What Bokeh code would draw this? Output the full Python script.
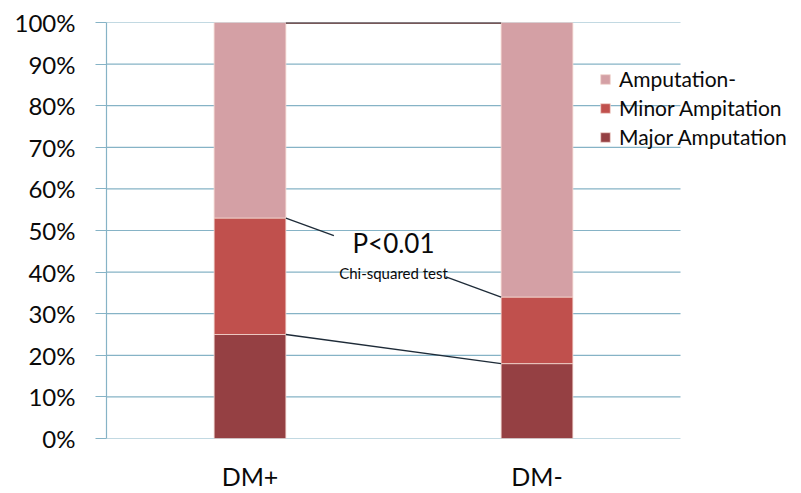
from bokeh.plotting import figure
from bokeh.models import Range1d, FixedTicker, Legend, LegendItem
from bokeh.core.properties import value
from bokeh.embed import file_html
from bokeh.resources import INLINE

categories = ["DM+", "DM-"]
major_amp = [25, 18]
minor_amp = [28, 16]
amp_neg = [47, 66]
series_names = ["Amputation-", "Minor Ampitation", "Major Amputation"]
series_colors = ["#D4A0A5", "#C0504D", "#954043"]
y_ticks = [0, 10, 20, 30, 40, 50, 60, 70, 80, 90, 100]
y_tick_labels = ["0%", "10%", "20%", "30%", "40%", "50%", "60%", "70%", "80%", "90%", "100%"]
p_text = "P<0.01"
test_text = "Chi-squared test"

FONT = "Lato"
GRID = "#86B3C6"
TXT = "#0A0A0A"

W, H = 801, 493
LEFT, TOP, BOTTOM = 106, 22, 55
n_cat = len(categories)
cat_px = 287.0
xs = [i + 0.5 for i in range(n_cat)]
bar_w = 0.25
x_end = (W - LEFT) / cat_px

p = figure(width=W, height=H, output_backend="svg", toolbar_location=None,
           x_range=Range1d(0, x_end), y_range=Range1d(0, 100),
           min_border_left=LEFT, min_border_right=0, min_border_top=TOP, min_border_bottom=BOTTOM)
p.outline_line_color = None
p.background_fill_color = "white"

# horizontal gridlines limited to the category area
p.segment(x0=[0] * len(y_ticks), x1=[n_cat] * len(y_ticks), y0=y_ticks, y1=y_ticks,
          line_color=GRID, line_width=1.2)

tops_major = major_amp
tops_minor = [a + b for a, b in zip(major_amp, minor_amp)]
tops_all = [a + b for a, b in zip(tops_minor, amp_neg)]

r_major = p.vbar(x=xs, width=bar_w, bottom=0, top=tops_major, fill_color=series_colors[2],
                 line_color="#F3D6CF", line_width=0.8)
r_minor = p.vbar(x=xs, width=bar_w, bottom=tops_major, top=tops_minor, fill_color=series_colors[1],
                 line_color="#F3D6CF", line_width=0.8)
r_neg = p.vbar(x=xs, width=bar_w, bottom=tops_minor, top=tops_all, fill_color=series_colors[0],
               line_color="#F3D6CF", line_width=0.8)

# connector lines between bars
x0 = xs[0] + bar_w / 2
x1 = xs[1] - bar_w / 2
p.line([x0, x1], [tops_all[0], tops_all[1]], line_color="#4A2020", line_width=2.5)
p.line([x0, x1], [tops_major[0], tops_major[1]], line_color="#1E2B38", line_width=1.3)
t1, t2 = 0.223, 0.744
ya, yb = tops_minor
p.line([x0, x0 + (x1 - x0) * t1], [ya, ya + (yb - ya) * t1], line_color="#1E2B38", line_width=1.3)
p.line([x0 + (x1 - x0) * t2, x1], [ya + (yb - ya) * t2, yb], line_color="#1E2B38", line_width=1.3)

xm = (xs[0] + xs[1]) / 2
p.text(x=[xm], y=[47.1], text=[p_text], text_font=value(FONT), text_font_size="26px",
       text_align="center", text_baseline="middle", text_color=TXT)
p.text(x=[xm], y=[39.9], text=[test_text], text_font=value(FONT), text_font_size="15px",
       text_align="center", text_baseline="middle", text_color=TXT)

# axes
p.xgrid.grid_line_color = None
p.ygrid.grid_line_color = None

p.yaxis.ticker = FixedTicker(ticks=y_ticks)
p.yaxis.major_label_overrides = {t: l for t, l in zip(y_ticks, y_tick_labels)}
p.yaxis.axis_line_color = GRID
p.yaxis.axis_line_width = 1.2
p.yaxis.major_tick_line_color = GRID
p.yaxis.major_tick_line_width = 1.2
p.yaxis.major_tick_out = 11
p.yaxis.major_tick_in = 0
p.yaxis.minor_tick_line_color = None
p.yaxis.major_label_standoff = 20
p.yaxis.major_label_text_font = FONT
p.yaxis.major_label_text_font_size = "24px"
p.yaxis.major_label_text_color = TXT

p.xaxis.ticker = FixedTicker(ticks=xs)
p.xaxis.major_label_overrides = {x: c for x, c in zip(xs, categories)}
p.xaxis.axis_line_color = None
p.xaxis.major_tick_line_color = None
p.xaxis.major_tick_out = 0
p.xaxis.major_tick_in = 0
p.xaxis.minor_tick_line_color = None
p.xaxis.major_label_standoff = 22
p.xaxis.major_label_text_font = FONT
p.xaxis.major_label_text_font_size = "25px"
p.xaxis.major_label_text_color = TXT

legend = Legend(items=[LegendItem(label=series_names[0], renderers=[r_neg]),
                       LegendItem(label=series_names[1], renderers=[r_minor]),
                       LegendItem(label=series_names[2], renderers=[r_major])],
                location=(493, 289))
legend.background_fill_alpha = 0
legend.border_line_color = None
legend.label_text_font = FONT
legend.label_text_font_size = "21px"
legend.label_text_color = TXT
legend.glyph_width = 12
legend.glyph_height = 12
legend.label_standoff = 8
legend.spacing = 4
legend.padding = 0
legend.margin = 0
p.add_layout(legend, "center")

open("out.html", "w").write(file_html(p, INLINE))
